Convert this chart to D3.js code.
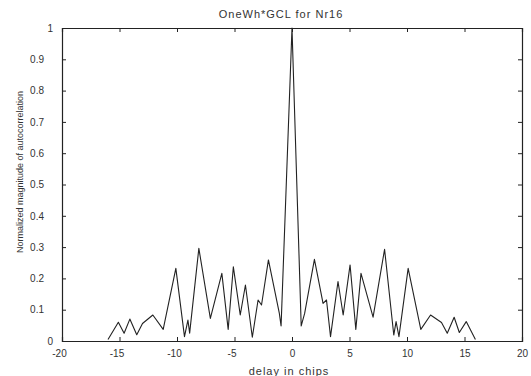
<!DOCTYPE html>
<html>
<head>
    <script type="text/javascript" src="https://d3js.org/d3.v7.min.js"></script>
    <style>
        body { margin: 0; background: #fff; }
        svg { display: block; font-family: "Liberation Sans", Arial, sans-serif; }
    </style>
</head>
<body>
    <svg></svg>
    <script>
        // autocorrelation magnitude (delay in chips, normalized value)
        const delay = [-16.0, -15.1, -14.6, -14.1, -13.5, -13.0, -12.1, -11.2, -10.1, -9.35, -9.05, -8.9,
            -8.1, -7.1, -6.1, -5.55, -5.1, -4.5, -4.05, -3.45, -2.95, -2.65, -2.05, -1.1, -0.95, 0,
            0.8, 1.1, 1.95, 2.7, 3.0, 3.35, 4.0, 4.45, 5.05, 5.55, 6.0, 7.05, 8.05, 8.85, 9.05, 9.3,
            10.1, 11.2, 12.05, 13.0, 13.5, 14.1, 14.55, 15.15, 15.95];
        const magnitude = [0.005, 0.06, 0.025, 0.07, 0.02, 0.056, 0.083, 0.037, 0.232, 0.014, 0.067, 0.025,
            0.296, 0.072, 0.216, 0.037, 0.237, 0.083, 0.179, 0.012, 0.131, 0.115, 0.259, 0.088, 0.048, 1.0,
            0.048, 0.088, 0.261, 0.12, 0.131, 0.014, 0.19, 0.083, 0.243, 0.037, 0.216, 0.076, 0.293, 0.019, 0.062, 0.014,
            0.232, 0.037, 0.083, 0.059, 0.025, 0.076, 0.027, 0.062, 0.005];
        const xTicks = [-20, -15, -10, -5, 0, 5, 10, 15, 20];
        const yTicks = [0, 0.1, 0.2, 0.3, 0.4, 0.5, 0.6, 0.7, 0.8, 0.9, 1];

        const W = 531, H = 376;
        const m = { left: 62, right: 9, top: 28, bottom: 35 };
        const svg = d3.select("svg").attr("width", W).attr("height", H);

        const x = d3.scaleLinear().domain([-20, 20]).range([m.left, W - m.right]);
        const y = d3.scaleLinear().domain([0, 1]).range([H - m.bottom, m.top]);
        const ink = "#222";

        // MATLAB style: ticks pointing inward on all four sides
        const tickLen = 4;
        const axB = svg.append("g").attr("transform", `translate(0,${H - m.bottom})`)
            .call(d3.axisBottom(x).tickValues(xTicks).tickSize(-tickLen).tickPadding(9).tickFormat(d3.format("d")));
        const axT = svg.append("g").attr("transform", `translate(0,${m.top})`)
            .call(d3.axisTop(x).tickValues(xTicks).tickSize(-tickLen).tickFormat(""));
        const axL = svg.append("g").attr("transform", `translate(${m.left},0)`)
            .call(d3.axisLeft(y).tickValues(yTicks).tickSize(-tickLen).tickFormat(d => d3.format("")(+d.toFixed(1))));
        const axR = svg.append("g").attr("transform", `translate(${W - m.right},0)`)
            .call(d3.axisRight(y).tickValues(yTicks).tickSize(-tickLen).tickFormat(""));

        [axB, axT, axL, axR].forEach(g => {
            g.select(".domain").attr("stroke", ink).attr("stroke-width", 1.2);
            g.selectAll(".tick line").attr("stroke", ink);
            g.selectAll(".tick text").attr("fill", "#333").style("font-size", "10px");
        });
        axB.selectAll(".tick text").text(d => d < 0 ? "-" + Math.abs(d) : d)
            .attr("dx", d => d < 0 ? -3 : 0);
        // whole-number labels sit closer to the axis than the decimal ones
        axL.selectAll(".tick text").attr("x", d => (d === 0 || d === 1) ? -9 : -18);

        // line
        const pts = delay.map((d, i) => [d, magnitude[i]]);
        svg.append("path")
            .datum(pts)
            .attr("fill", "none")
            .attr("stroke", ink)
            .attr("stroke-width", 1.1)
            .attr("stroke-linejoin", "round")
            .attr("d", d3.line().x(d => x(d[0])).y(d => y(d[1])));

        // labels
        svg.append("text").attr("x", 281).attr("y", 18)
            .attr("text-anchor", "middle").attr("fill", "#333")
            .style("font-size", "11px").style("letter-spacing", "1px")
            .text("OneWh*GCL for Nr16");
        svg.append("text").attr("x", 289).attr("y", 375)
            .attr("text-anchor", "middle").attr("fill", "#333")
            .style("font-size", "11px").style("letter-spacing", "1px")
            .text("delay in chips");
        svg.append("text")
            .attr("transform", `translate(23,172) rotate(-90)`)
            .attr("text-anchor", "middle").attr("fill", "#333").style("font-size", "9px")
            .text("Normalized magnitude of autocorrelation");
    </script>
</body>
</html>
